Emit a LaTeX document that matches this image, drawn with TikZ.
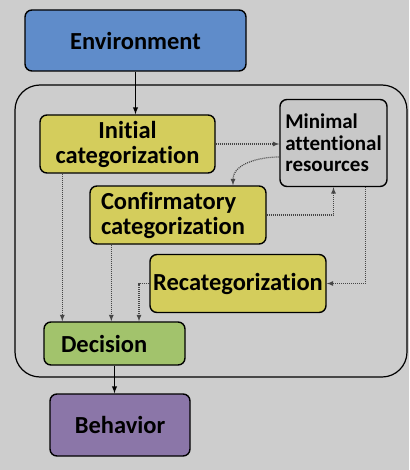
\documentclass[tikz,border=0pt]{standalone}
\usepackage{fontspec}
\setmainfont{Carlito}[Ligatures=NoCommon]
\usetikzlibrary{arrows.meta}

\definecolor{bggrey}{RGB}{205,205,205}
\definecolor{envblue}{RGB}{95,140,202}
\definecolor{catyellow}{RGB}{212,205,92}
\definecolor{resgrey}{RGB}{200,200,200}
\definecolor{decgreen}{RGB}{162,195,108}
\definecolor{behpurple}{RGB}{139,118,168}
\definecolor{dotgrey}{RGB}{70,70,70}

\tikzset{
  box/.style={draw,rounded corners=7pt,line width=1.4pt,font=\bfseries\fontsize{24.5}{25}\selectfont,inner sep=3pt},
  flow/.style={->,dash pattern=on 1pt off 1pt,line width=1.2pt,draw=dotgrey},
  main/.style={->,line width=1.4pt}
}

\begin{document}
\begin{tikzpicture}[>=latex,x=1pt,y=-1pt] % pixel units, y pointing down

  \fill[bggrey] (0,0) rectangle (409,470);
  \draw[rounded corners=25pt,line width=1.2pt] (15,85) rectangle (407,377);

  \node[box,fill=envblue,minimum width=221pt,minimum height=61pt](env) at (135.5,40.5) {Environment};
  \node[box,fill=catyellow,minimum width=175pt,minimum height=58pt,align=center](init) at (127.5,144) {Initial\\categorization};
  \node[box,fill=resgrey,minimum width=107pt,minimum height=87pt,align=left,
        font=\bfseries\fontsize{21}{21.5}\selectfont](res) at (333.5,143) {Minimal\\attentional\\resources};
  \node[box,fill=catyellow,text width=154pt,inner xsep=11pt,minimum height=58pt,align=left](conf) at (178,215) {Confirmatory\\categorization};
  \node[box,fill=catyellow,minimum width=176pt,minimum height=58pt](recat) at (238,283.5) {Recategorization};
  \node[box,fill=decgreen,text width=107pt,inner xsep=17pt,minimum height=43pt,align=left](dec) at (114.5,343.5) {Decision};
  \node[box,fill=behpurple,minimum width=140pt,minimum height=62pt](beh) at (120,425) {Behavior};

  \draw[main] (env.south) -- (env.south |- init.north);
  \draw[main] (dec.south) -- (dec.south |- beh.north);

  \draw[flow] (init.east) -- (init.east -| res.west);
  \draw[flow] ([yshift=-14pt]res.west) to[out=180,in=90] ([xshift=55pt]conf.north);
  \draw[flow] (conf.east) -| (res.south);
  \draw[flow] ([xshift=32pt]res.south) |- (recat.east);

  \draw[flow] ([xshift=19pt]dec.north west |- init.south) -- ([xshift=19pt]dec.north west);
  \draw[flow] ([xshift=22pt]conf.south west) -- ([xshift=22pt]conf.south west |- dec.north);
  \draw[flow] (recat.west) -| ([xshift=24.5pt]dec.north);

\end{tikzpicture}
\end{document}
